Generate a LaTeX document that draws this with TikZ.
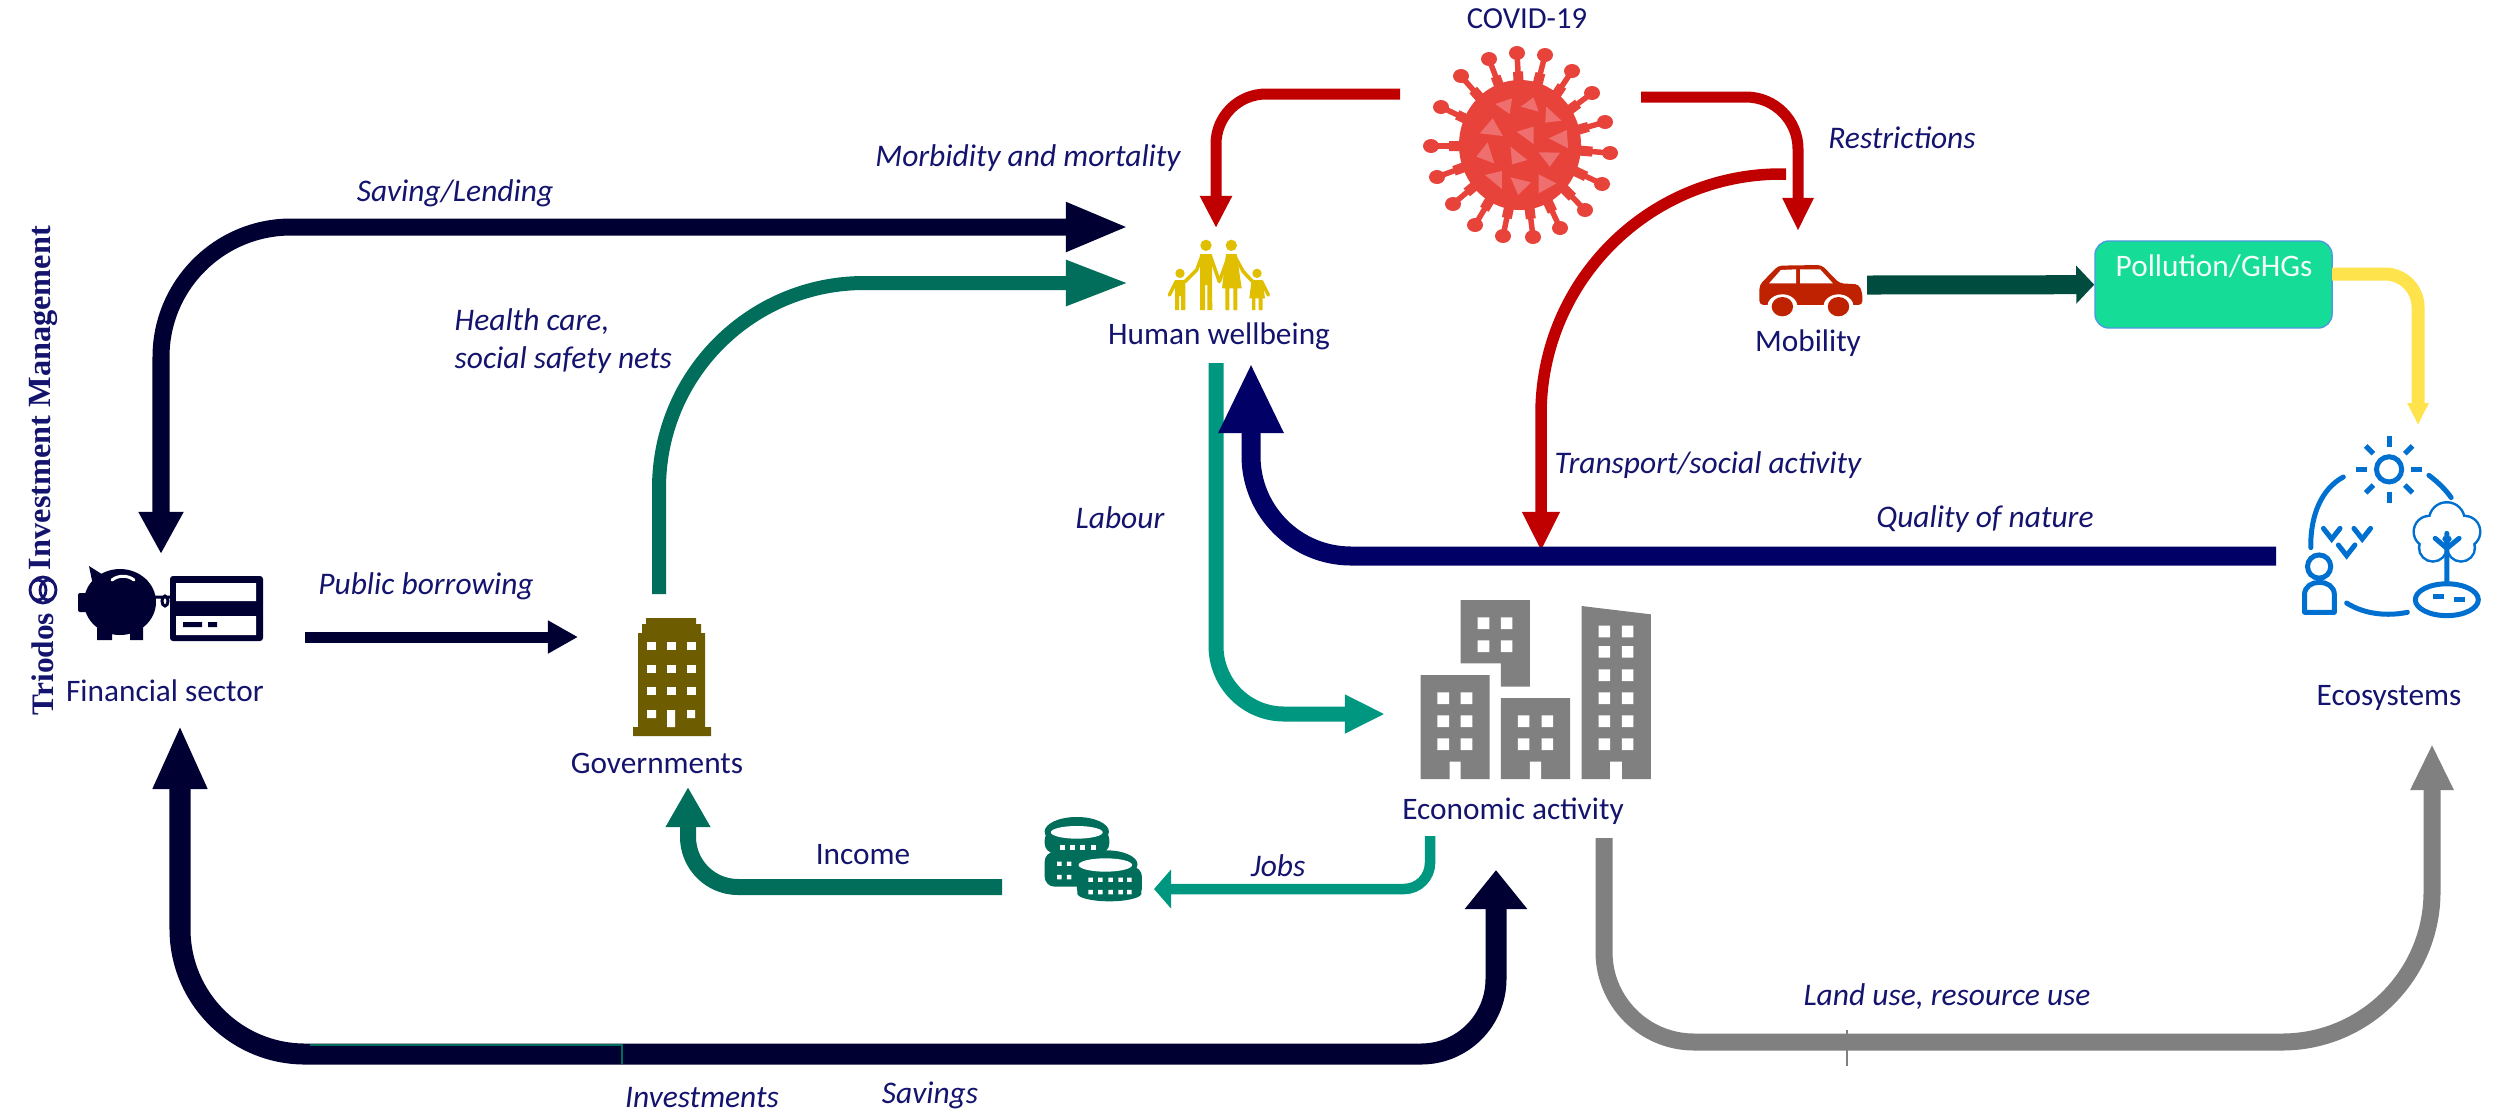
\documentclass[tikz,border=0pt]{standalone}
\usepackage{fontspec}
\setmainfont{Carlito}
\newfontfamily\triofont{Liberation Serif}
\usetikzlibrary{arrows.meta,calc}
\definecolor{inktext}{HTML}{14146E}
\definecolor{darkinv}{HTML}{000033}
\definecolor{navyflow}{HTML}{000066}
\definecolor{pinegreen}{HTML}{006E5A}
\definecolor{tealflow}{HTML}{009780}
\definecolor{redflow}{HTML}{C00000}
\definecolor{greyflow}{HTML}{808080}
\definecolor{yellowflow}{HTML}{FFE34D}
\definecolor{mobgreen}{HTML}{004D40}
\definecolor{virusred}{HTML}{E8433B}
\definecolor{viruspale}{HTML}{EF6E6E}
\definecolor{carred}{HTML}{BF2200}
\definecolor{govbrown}{HTML}{6E5C00}
\definecolor{famyellow}{HTML}{E0BE00}
\definecolor{ecoblue}{HTML}{0070D0}
\definecolor{pollgreen}{HTML}{15DC96}
\tikzset{
  txt/.style={text=inktext,inner sep=0pt,font=\fontsize{8.9}{10.6}\selectfont},
  lab/.style={txt,font=\fontsize{8.95}{10.6}\selectfont\itshape},
  flow/.style n args={4}{draw=#1,line width=#2,-{Triangle[length=#3,width=#4]}},
  ecoline/.style={draw=ecoblue,line width=.05cm,line cap=round}
}
\begin{document}
\begin{tikzpicture}[x=.01cm,y=-.01cm]
  \useasboundingbox (0,0) rectangle (2503,1111);

  \node[txt,font=\fontsize{8.7}{10}\selectfont] (covid) at (1527,19) {COVID-19};
  \node[lab] (lend) at (455,193) {Saving/Lending};
  \node[lab] (morb) at (1028,158) {Morbidity and mortality};
  \node[lab] (restr) at (1902,138) {Restrictions};
  \node[lab,anchor=west,align=left] (health) at (454,341) {Health care,\\social safety nets};
  \node[txt] (human) at (1219,336) {Human wellbeing};
  \node[txt] (mob) at (1808,343) {Mobility};
  \node[lab] (trans) at (1708,465) {Transport/social activity};
  \node[lab] (labour) at (1120,518) {Labour};
  \node[lab] (qual) at (1985,519) {Quality of nature};
  \node[lab] (borrow) at (426,586) {Public borrowing};
  \node[txt] (fin) at (165,691) {Financial sector};
  \node[txt] (gov) at (657,763) {Governments};
  \node[txt] (eco) at (2389,698) {Ecosystems};
  \node[txt] (econ) at (1513,811) {Economic activity};
  \node[lab] (jobs) at (1278,866) {Jobs};
  \node[txt] (income) at (863,855) {Income};
  \node[lab] (land) at (1947,997) {Land use, resource use};
  \node[lab] (invest) at (702,1097) {Investments};
  \node[lab] (sav) at (930,1095) {Savings};
  \node[draw=ecoblue!70!white,fill=pollgreen,line width=.4pt,rounded corners=.14cm,minimum width=2.37cm,minimum height=.87cm] (poll) at (2213.5,284.5) {};
  \node[txt,text=white!95!pollgreen] (pollt) at (2214,266) {Pollution/GHGs};

  \node[text=inktext,inner sep=0pt,rotate=90,font=\fontsize{8.9}{10}\triofont\bfseries] (trio) at (43,664) {Triodos};
  \node[text=inktext,inner sep=0pt,rotate=90,font=\fontsize{9.2}{10}\triofont\bfseries] (mgmt) at (43,398) {Investment Management};
  \draw[inktext,line width=.8pt] (43,590) circle (13) (38,590) ellipse [x radius=8,y radius=10] (48,590) ellipse [x radius=8,y radius=10];

  \coordinate (lendA) at (1129,227);
  \coordinate (lendB) at (161,554);
  \coordinate (healthA) at (659,594);
  \coordinate (healthB) at (1129,283);
  \coordinate (borrowA) at (305,637);
  \coordinate (borrowB) at (578,637);
  \coordinate (savA) at (180,725);
  \coordinate (savM) at (800,1054);
  \coordinate (savB) at (1496,870);
  \coordinate (labourA) at (1216,363);
  \coordinate (labourB) at (1385,714);
  \coordinate (jobsA) at (1430,836);
  \coordinate (jobsB) at (1154,889);
  \coordinate (incomeA) at (1002,887);
  \coordinate (incomeB) at (688,787);
  \coordinate (morbA) at (1400,94);
  \coordinate (morbB) at (1216,228);
  \coordinate (restrA) at (1641,97);
  \coordinate (restrB) at (1798,231);
  \coordinate (transA) at (1786,174);
  \coordinate (transB) at (1541,551);
  \coordinate (qualA) at (2276,556);
  \coordinate (qualB) at (1251,363);
  \coordinate (mobA) at (1867,285);
  \coordinate (yellowA) at (2332,274);
  \coordinate (yellowB) at (2418,425);
  \coordinate (landA) at (1604,838);
  \coordinate (landM) at (2000,1042);
  \coordinate (landB) at (2432,744);

  \draw[darkinv,line width=.17cm,{Triangle[length=.42cm,width=.42cm]}-{Triangle[length=.63cm,width=.45cm]},rounded corners=1.3cm] (lendB) |- (lendA);
  \draw[flow={pinegreen}{.14cm}{.63cm}{.42cm},rounded corners=2.05cm] (healthA) |- (healthB);
  \draw[flow={darkinv}{.11cm}{.3cm}{.31cm}] (borrowA) -- (borrowB);
  \draw[darkinv,line width=.21cm,{Triangle[length=.64cm,width=.5cm]}-{Triangle[length=.39cm,width=.6cm]}] (savA) [rounded corners=1.25cm] |- (savM) [rounded corners=.75cm] -| (savB);
  \draw[pinegreen,line width=.5pt] (310,1045) -| (622,1064);
  \draw[flow={tealflow}{.15cm}{.4cm}{.36cm},rounded corners=.68cm] (labourA) |- (labourB);
  \draw[flow={tealflow}{.105cm}{.17cm}{.38cm},rounded corners=.26cm] (jobsA) |- (jobsB);
  \draw[flow={pinegreen}{.16cm}{.4cm}{.42cm},rounded corners=.5cm] (incomeA) -| (incomeB);
  \draw[flow={redflow}{.11cm}{.32cm}{.3cm},rounded corners=.5cm] (morbA) -| (morbB);
  \draw[flow={redflow}{.11cm}{.33cm}{.29cm},rounded corners=.52cm] (restrA) -| (restrB);
  \draw[flow={redflow}{.115cm}{.39cm}{.35cm},rounded corners=2.4cm] (transA) -| (transB);
  \draw[flow={navyflow}{.19cm}{.7cm}{.6cm},rounded corners=1.0cm] (qualA) -| (qualB);
  \draw[flow={mobgreen}{.19cm}{.18cm}{.37cm}] (mobA) -- (poll);
  \draw[flow={yellowflow}{.13cm}{.22cm}{.2cm},rounded corners=.33cm] (yellowA) -| (yellowB);
  \draw[greyflow,line width=.17cm,-{Triangle[length=.46cm,width=.4cm]}] (landA) [rounded corners=.9cm] |- (landM) [rounded corners=1.5cm] -| (landB);
  \draw[greyflow,line width=.5pt] (1847,1030) -- (1847,1066);

  % piggy bank and card
  \fill[darkinv] (120,602) ellipse [x radius=36,y radius=33];
  \fill[darkinv] (89,566) -- (108,578) -- (94,590) -- cycle;
  \fill[darkinv,rounded corners=.02cm] (78,593) rectangle (95,612);
  \fill[darkinv] (97,625) rectangle (112,640) (130,625) rectangle (143,640);
  \draw[white,line width=.03cm,line cap=round] (112,580) .. controls (118,575) and (128,575) .. (134,580);
  \draw[darkinv,line width=.03cm] (155,597) -- (170,597) (165,601) ellipse [x radius=3,y radius=5];
  \fill[darkinv,rounded corners=.03cm] (170,576) rectangle (263,641);
  \fill[white] (176,583) rectangle (256,601) (176,616) rectangle (256,635);
  \fill[darkinv] (183,622) rectangle (202,627) (208,622) rectangle (217,627);

  % government building
  \fill[govbrown] (633,727) rectangle (711,736) (638,633) rectangle (705,727) (642,624) rectangle (701,633) (646,618) rectangle (696,624);
  \foreach \wx in {647,667,687} \foreach \wy in {642,665,687}
    \fill[white] (\wx,\wy) rectangle +(8.5,8);
  \fill[white] (647,710) rectangle (656,718) (667,710) rectangle (675,727) (687,710) rectangle (695,718);

  % family
  \begin{scope}[shift={(1150,230)},scale=.3333]
    \fill[famyellow] (168,46) circle (17) (244,46) circle (17) (90,130) circle (14) (321,130) circle (14);
    \fill[famyellow] (150,72) -- (186,72) -- (186,160) -- (187,240) -- (172,240) -- (172,165) -- (165,165) -- (165,240) -- (150,240) -- cycle;
    \fill[famyellow] (228,72) -- (260,72) -- (275,175) -- (262,175) -- (262,240) -- (250,240) -- (250,175) -- (238,175) -- (238,240) -- (226,240) -- (226,175) -- (216,175) -- cycle;
    \fill[famyellow] (75,150) -- (106,150) -- (106,240) -- (93,240) -- (93,198) -- (87,198) -- (87,240) -- (75,240) -- cycle;
    \fill[famyellow] (305,150) -- (338,150) -- (345,205) -- (338,205) -- (338,240) -- (326,240) -- (326,205) -- (316,205) -- (316,240) -- (306,240) -- (306,205) -- (298,205) -- cycle;
    \draw[famyellow,line width=.035cm,line cap=round,line join=round] (155,80) -- (140,120) -- (105,155) (78,155) -- (58,195) (182,80) -- (208,155) (235,80) -- (208,155) (255,80) -- (280,125) -- (308,155) (335,155) -- (355,195);
  \end{scope}

  % virus
  \coordinate (virusC) at (1522,146);
  \foreach \tx/\ty in {1517/53,1545/55,1489/59,1572/71,1461/76,1592/93,1441/107,1605/122,1431/146,1610/153,1437/177,1602/184,1453/204,1585/210,1475/225,1560/228,1503/236,1533/237}{
    \draw[virusred,line width=.055cm] (virusC) -- (\tx,\ty);
    \draw[virusred,line width=.1cm] (virusC) -- ($(virusC)!.8!(\tx,\ty)$);
    \fill[virusred] (\tx,\ty) ellipse [x radius=8,y radius=7];
  }
  \fill[virusred] (1520,145) ellipse [x radius=61,y radius=65];
  \begin{scope}[shift={(1100,0)},xscale=.51,yscale=.3333]
    \foreach \ax/\ay/\bx/\by/\cx/\cy in {775/312/808/295/803/342,825/320/850/292/860/335,875/320/905/362/873/368,770/355/790/408/745/400,817/395/850/380/850/432,880/415/915/390/918/445,760/427/773/490/738/470,805/440/838/480/808/493,860/457/902/458/882/500,755/525/788/513/788/567,805/532/845/547/820/585,860/523/895/550/860/580}
      \fill[viruspale] (\ax,\ay) -- (\bx,\by) -- (\cx,\cy) -- cycle;
    % car
    \fill[carred,rounded corners=.04cm] (1293,915) -- (1293,855) -- (1330,797) -- (1415,795) -- (1450,850) -- (1488,853) -- (1495,880) -- (1495,915) -- cycle;
    \fill[white] (1312,850) -- (1335,810) -- (1365,808) -- (1365,850) -- cycle (1373,808) -- (1412,808) -- (1437,850) -- (1373,850) -- cycle;
    \fill[white] (1338,922) ellipse [x radius=30,y radius=39] (1448,922) ellipse [x radius=30,y radius=39];
    \fill[white] (1290,922) rectangle (1500,960);
    \fill[carred] (1338,920) ellipse [x radius=21,y radius=29] (1448,920) ellipse [x radius=21,y radius=29];
  \end{scope}

  % economic activity buildings
  \begin{scope}[shift={(1000,580)},xscale=.4464,yscale=.3333]
    \fill[greyflow] (942,285) rectangle (1097,597) (1122,354) rectangle (1277,597);
    \fill[greyflow] (1032,60) -- (1187,60) -- (1187,320) -- (1122,320) -- (1122,250) -- (1032,250) -- cycle;
    \fill[greyflow] (1303,78) -- (1458,103) -- (1458,597) -- (1303,597) -- cycle;
    \fill[white] (1007,545) rectangle (1032,600) (1187,545) rectangle (1212,600) (1367,545) rectangle (1393,600);
    \foreach \wy in {337,406,475} \fill[white] (980,\wy) rectangle +(26,35) (1032,\wy) rectangle +(26,35);
    \foreach \wy in {406,475} \fill[white] (1160,\wy) rectangle +(26,35) (1213,\wy) rectangle +(26,35);
    \foreach \wy in {112,181} \fill[white] (1070,\wy) rectangle +(26,35) (1122,\wy) rectangle +(26,35);
    \foreach \wy in {137,198,268,337,406,475} \fill[white] (1341,\wy) rectangle +(26,35) (1393,\wy) rectangle +(26,35);
    % coins
    \fill[pinegreen,rounded corners=.1cm] (100,815) rectangle (255,920);
    \fill[pinegreen,rounded corners=.1cm] (100,750) rectangle (245,820);
    \fill[pinegreen] (172,755) ellipse [x radius=72,y radius=44];
    \fill[white] (172,757) ellipse [x radius=58,y radius=19];
    \foreach \cx in {135,157,180,203} \fill[white] (\cx,795) rectangle +(11,14);
    \foreach \cx in {128,150} \fill[white] (\cx,845) rectangle +(10,13) (\cx,885) rectangle +(10,13);
    \fill[pinegreen,rounded corners=.1cm] (172,860) rectangle (318,955);
    \fill[pinegreen] (238,853) ellipse [x radius=70,y radius=42] (245,940) ellipse [x radius=72,y radius=24];
    \fill[white] (236,855) ellipse [x radius=60,y radius=20];
    \foreach \cx in {198,220,243,265,285} \fill[white] (\cx,893) rectangle +(10,13) (\cx,930) rectangle +(10,13);
  \end{scope}

  % ecosystem
  \begin{scope}[shift={(2000,200)},scale=.3317]
    \foreach \crx/\cry/\crr in {1347/965/50,1295/1000/44,1400/1000/44,1305/1048/38,1390/1048/38}
      \draw[ecoline] (\crx,\cry) circle (\crr);
    \foreach \crx/\cry/\crr in {1347/965/50,1295/1000/44,1400/1000/44,1305/1048/38,1390/1048/38}
      \fill[white] (\crx,\cry) circle (\crr);
    \draw[ecoline] (1173,812) circle (38);
    \foreach \a in {0,45,...,315} \draw[ecoline,line cap=butt] (1173,812) ++(\a:67) -- ++(\a:33);
    \draw[ecoline] (1035,835) .. controls (970,870) and (935,950) .. (937,1048);
    \draw[ecoline] (1293,830) .. controls (1320,850) and (1345,875) .. (1360,897);
    \draw[ecoline] (1045,1215) .. controls (1100,1250) and (1170,1255) .. (1228,1243);
    \draw[ecoline] (962,1105) circle (35);
    \draw[ecoline,line join=round] (918,1243) -- (918,1190) .. controls (918,1140) and (1008,1140) .. (1008,1190) -- (1008,1243) -- cycle;
    \draw[ecoline] (1347,1005) -- (1347,1155) (1347,1050) -- (1312,1020) (1347,1050) -- (1384,1020);
    \draw[ecoline] (1347,1205) ellipse [x radius=95,y radius=48];
    \draw[ecoline,line cap=butt] (1305,1195) -- (1338,1195) (1368,1205) -- (1402,1205);
    \draw[ecoline,line join=miter] (975,990) -- (1000,1022) -- (1025,990) (1067,990) -- (1092,1022) -- (1117,990) (1020,1040) -- (1045,1072) -- (1070,1040);
  \end{scope}
\end{tikzpicture}
\end{document}
